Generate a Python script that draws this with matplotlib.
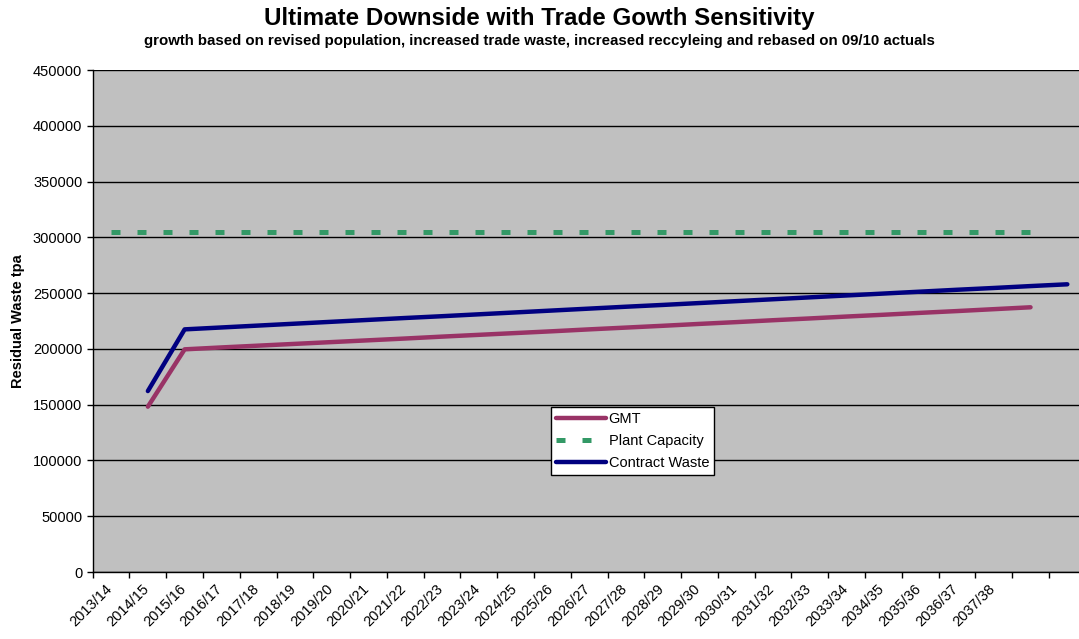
import numpy as np
import matplotlib
matplotlib.use("Agg")
import matplotlib.pyplot as plt
import matplotlib.transforms as mtransforms

plt.rcParams['font.family'] = ['Liberation Sans', 'DejaVu Sans']

#==================== data
years = ["2013/14", "2014/15", "2015/16", "2016/17", "2017/18", "2018/19",
         "2019/20", "2020/21", "2021/22", "2022/23", "2023/24", "2024/25",
         "2025/26", "2026/27", "2027/28", "2028/29", "2029/30", "2030/31",
         "2031/32", "2032/33", "2033/34", "2034/35", "2035/36", "2036/37",
         "2037/38", "", ""]

gmt = [148200, 199600, 201300, 202900, 204500, 206100, 207700, 209300,
       211000, 212600, 214200, 215800, 217500, 219100, 220700, 222400,
       224000, 225700, 227300, 229000, 230600, 232300, 233900, 235600,
       237300]

plant_capacity = [305000] * 26

contract_waste = [162200, 217500, 219200, 220900, 222600, 224300, 226000,
                  227700, 229300, 231000, 232700, 234400, 236100, 237800,
                  239400, 241100, 242800, 244500, 246200, 247900, 249600,
                  251300, 253000, 254600, 256300, 257900]

#==================== figure
fig = plt.figure(figsize=(10.79, 6.39), dpi=100)
ax = fig.add_axes([92.7/1079, 1-572/639, 993/1079, 502/639])
ax.set_facecolor('#C0C0C0')

x_gmt = np.arange(1, 1+len(gmt))
x_plant = np.arange(0, len(plant_capacity))
x_cw = np.arange(1, 1+len(contract_waste))

ax.plot(x_gmt, gmt, color='#993366', lw=3.2, solid_capstyle='round',
        label='GMT', zorder=3)
ax.plot(x_plant, plant_capacity, color='#339966', lw=3.6,
        dashes=(1.8, 3.4), dash_capstyle='butt', label='Plant Capacity',
        zorder=3)
ax.plot(x_cw, contract_waste, color='#000080', lw=3.2,
        solid_capstyle='round', label='Contract Waste', zorder=3)

#==================== axes
ax.set_xlim(-0.5, len(years)-0.5)
ax.set_ylim(0, 450000)
ax.set_yticks(np.arange(0, 450001, 50000))
ax.yaxis.grid(True, color='black', lw=1.0)
ax.set_axisbelow(True)
ax.tick_params(axis='y', labelsize=10.5, length=4, width=1, direction='out')

ax.set_xticks(np.arange(len(years)))
ax.set_xticklabels(years, rotation=45, ha='right', rotation_mode='anchor',
                   fontsize=10.5)
ax.tick_params(axis='x', which='major', length=0, pad=7)
ax.set_xticks(np.arange(len(years)+1) - 0.5, minor=True)
ax.tick_params(axis='x', which='minor', length=4, width=1)
shift = mtransforms.ScaledTranslation(-6/100, 0, fig.dpi_scale_trans)
for lbl in ax.get_xticklabels():
  lbl.set_transform(lbl.get_transform() + shift)

for s in ['top', 'right']:
  ax.spines[s].set_visible(False)
ax.spines['left'].set_linewidth(1.0)
ax.spines['bottom'].set_linewidth(1.0)

ax.set_ylabel('Residual Waste tpa', fontsize=10.5, fontweight='bold',
              labelpad=6)

fig.text(0.5, 1-18/639, 'Ultimate Downside with Trade Gowth Sensitivity',
         ha='center', va='center', fontsize=17.4, fontweight='bold')
fig.text(0.5, 1-41/639,
         'growth based on revised population, increased trade waste, '
         'increased reccyleing and rebased on 09/10 actuals',
         ha='center', va='center', fontsize=10.8, fontweight='bold')

leg = ax.legend(loc='upper left', bbox_to_anchor=(551/1079, 1-407/639),
                bbox_transform=fig.transFigure, fontsize=10.5, frameon=True,
                fancybox=False, framealpha=1, edgecolor='black',
                handlelength=3.4, handletextpad=0.2, borderpad=0.35,
                labelspacing=0.55, borderaxespad=0)
leg.get_frame().set_linewidth(1.0)

fig.savefig('out.png', dpi=100)
